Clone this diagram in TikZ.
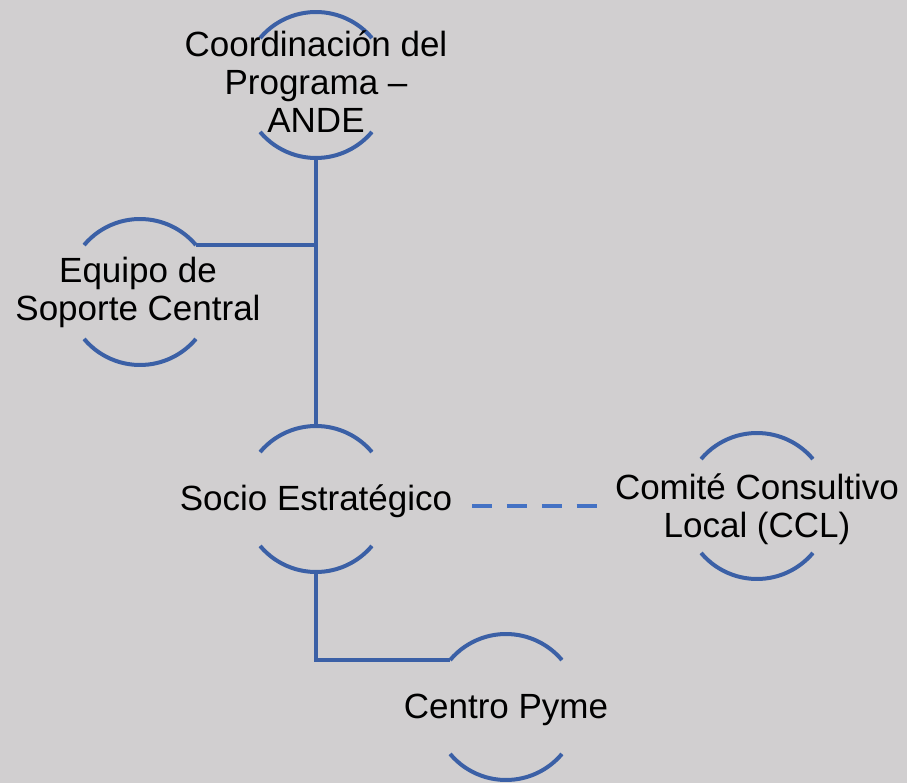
\documentclass[tikz,border=0pt]{standalone}
\usepackage{fontspec}
\setmainfont{Liberation Sans}
\definecolor{bg}{RGB}{209,207,208}
\definecolor{ringblue}{RGB}{59,96,166}
\definecolor{dashblue}{RGB}{68,114,196}
\begin{document}
\begin{tikzpicture}[x=1pt,y=1pt,
  ring/.style={circle,minimum size=146pt,inner sep=0pt,outer sep=0pt},
  ringline/.style={draw=ringblue,line width=4pt},
  conn/.style={draw=ringblue,line width=4pt},
  dashconn/.style={draw=dashblue,line width=4pt,dash pattern=on 20pt off 14.8pt},
  lbl/.style={inner sep=0pt,outer sep=0pt,align=center,anchor=base,font=\fontsize{35}{38}\selectfont}]
\useasboundingbox[fill=bg] (0,0) rectangle (907,-783);
% circle nodes
\node[ring] (coord) at (316,-85) {};
\node[ring] (equipo) at (140,-292) {};
\node[ring] (socio) at (316,-499) {};
\node[ring] (ccl) at (757,-506) {};
\node[ring] (centro) at (506,-707) {};
\foreach \n in {coord,equipo,socio,ccl,centro}{
  \draw[ringline] (\n.140) arc[start angle=140,end angle=40,radius=73pt];
  \draw[ringline] (\n.220) arc[start angle=220,end angle=320,radius=73pt];
}
% labels (base anchor = baseline of the last line)
\node[lbl] (coordT) at (316,-133) {Coordinación del\\Programa –\\ANDE};
\node[lbl] (equipoT) at (138,-321) {Equipo de\\Soporte Central};
\node[lbl] (socioT) at (316,-510) {Socio Estratégico};
\node[lbl] (cclT) at (757,-537) {Comité Consultivo\\Local (CCL)};
\node[lbl] (centroT) at (506,-718) {Centro Pyme};
% connectors
\draw[conn] (coord.south) -- (socio.north);
\draw[conn] (equipo.40) -- (equipo.40 -| coord.south);
\draw[conn] (socio.south) |- (centro.140);
\draw[dashconn,shorten <=20pt,shorten >=18pt] (socioT.east |- ccl.center) -- (cclT.west |- ccl.center);
\end{tikzpicture}
\end{document}
